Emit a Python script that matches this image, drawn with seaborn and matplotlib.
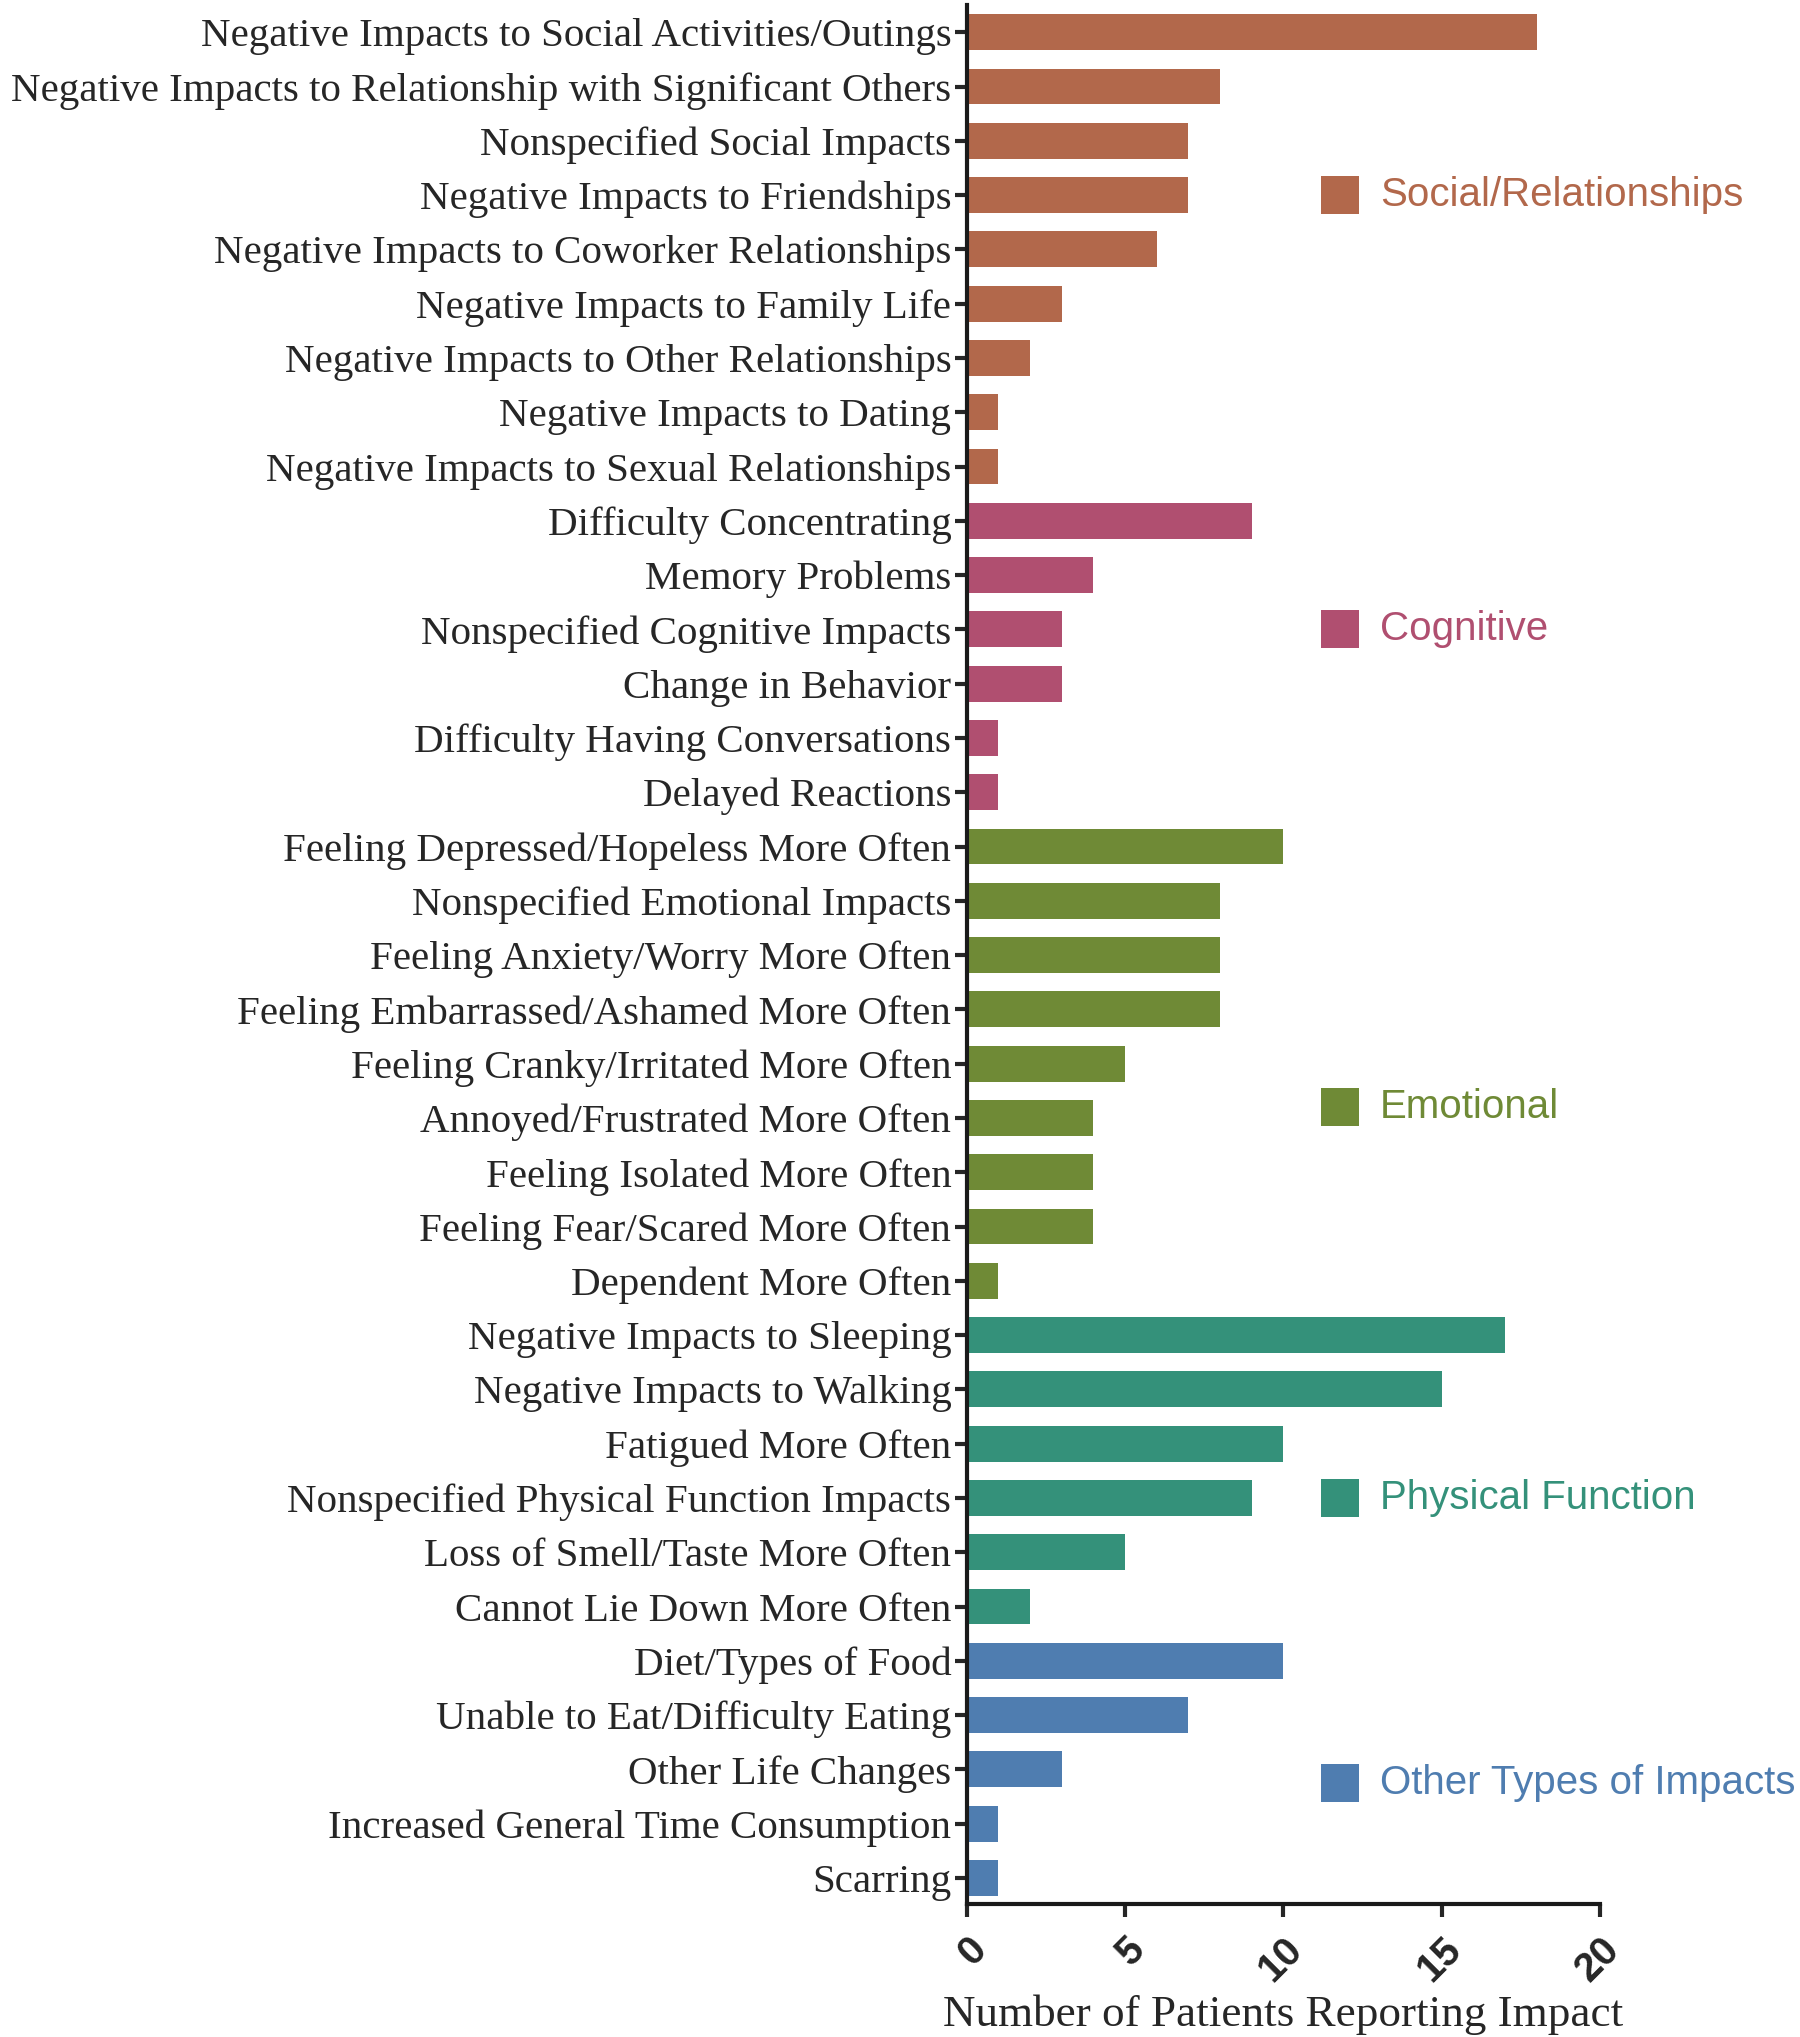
import matplotlib
matplotlib.use("Agg")
import matplotlib.pyplot as plt
import matplotlib.transforms as mtransforms
import seaborn as sns
import pandas as pd

social_labels = ["Negative Impacts to Social Activities/Outings",
                 "Negative Impacts to Relationship with Significant Others",
                 "Nonspecified Social Impacts",
                 "Negative Impacts to Friendships",
                 "Negative Impacts to Coworker Relationships",
                 "Negative Impacts to Family Life",
                 "Negative Impacts to Other Relationships",
                 "Negative Impacts to Dating",
                 "Negative Impacts to Sexual Relationships"]
social_values = [18, 8, 7, 7, 6, 3, 2, 1, 1]

cognitive_labels = ["Difficulty Concentrating", "Memory Problems",
                    "Nonspecified Cognitive Impacts", "Change in Behavior",
                    "Difficulty Having Conversations", "Delayed Reactions"]
cognitive_values = [9, 4, 3, 3, 1, 1]

emotional_labels = ["Feeling Depressed/Hopeless More Often",
                    "Nonspecified Emotional Impacts",
                    "Feeling Anxiety/Worry More Often",
                    "Feeling Embarrassed/Ashamed More Often",
                    "Feeling Cranky/Irritated More Often",
                    "Annoyed/Frustrated More Often",
                    "Feeling Isolated More Often",
                    "Feeling Fear/Scared More Often",
                    "Dependent More Often"]
emotional_values = [10, 8, 8, 8, 5, 4, 4, 4, 1]

physical_labels = ["Negative Impacts to Sleeping", "Negative Impacts to Walking",
                   "Fatigued More Often", "Nonspecified Physical Function Impacts",
                   "Loss of Smell/Taste More Often", "Cannot Lie Down More Often"]
physical_values = [17, 15, 10, 9, 5, 2]

other_labels = ["Diet/Types of Food", "Unable to Eat/Difficulty Eating",
                "Other Life Changes", "Increased General Time Consumption",
                "Scarring"]
other_values = [10, 7, 3, 1, 1]

group_names = ["Social/Relationships", "Cognitive", "Emotional",
               "Physical Function", "Other Types of Impacts"]
group_colors = ["#B2684B", "#B04F70", "#6F8A36", "#34917A", "#4F7DB0"]

groups = [(social_labels, social_values), (cognitive_labels, cognitive_values),
          (emotional_labels, emotional_values), (physical_labels, physical_values),
          (other_labels, other_values)]

rows = []
for name, (labs, vals) in zip(group_names, groups):
    for l, v in zip(labs, vals):
        rows.append({"label": l, "value": v, "group": name})
df = pd.DataFrame(rows)

sns.set_style("ticks")
plt.rcParams["font.family"] = ["Liberation Serif", "DejaVu Serif"]

fig = plt.figure(figsize=(18, 20.37), dpi=100)
ax = fig.add_axes([0.537, 0.0653, 0.352, 0.9322])

sns.barplot(data=df, x="value", y="label", hue="group", hue_order=group_names,
            palette=group_colors, dodge=False, width=0.66, ax=ax,
            legend=False, saturation=1, linewidth=0)

ax.set_xlim(0, 20)
ax.set_ylim(len(df) - 0.52, -0.5)
ax.set_xticks([0, 5, 10, 15, 20])
ax.set_xticklabels(["0", "5", "10", "15", "20"], rotation=45, ha="right",
                   rotation_mode="anchor", fontweight="bold",
                   fontfamily="Liberation Sans", fontsize=29)
ax.tick_params(axis="y", labelsize=29.5, length=9, width=3, pad=2)
ax.tick_params(axis="x", length=9, width=3, pad=10)
ax.set_ylabel("")
ax.set_xlabel("Number of Patients Reporting Impact", fontsize=32.5, labelpad=4)
sns.despine(ax=ax)
for s in ["left", "bottom"]:
    ax.spines[s].set_linewidth(3)
    ax.spines[s].set_color("#1a1a1a")

legend_rows = [3, 11, 19.8, 27, 32.25]
trans = mtransforms.blended_transform_factory(ax.transAxes, ax.transData)
for name, col, yy in zip(group_names, group_colors, legend_rows):
    ax.scatter([0.590], [yy], marker="s", s=720, color=col, transform=trans,
               clip_on=False, zorder=5, linewidths=0)
    ax.text(0.652, yy, name, color=col, fontsize=29, fontfamily="Liberation Sans",
            va="center", ha="left", transform=trans)

fig.savefig("out.png", dpi=100)
